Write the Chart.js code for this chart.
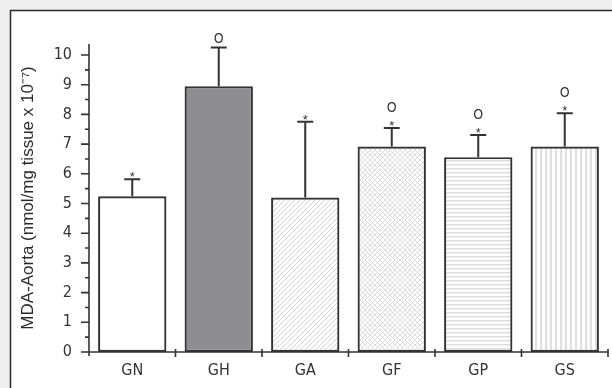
<!DOCTYPE html>
<html>
<head>
<meta charset="utf-8">
<script src="https://cdn.jsdelivr.net/npm/chart.js@4.4.0/dist/chart.umd.min.js"></script>
<style>
  html, body { margin: 0; padding: 0; background: #efefef; }
</style>
</head>
<body>
<canvas id="chart" width="612" height="388"></canvas>
<script>
const groups = ["GN", "GH", "GA", "GF", "GP", "GS"];
const meanValues = [5.24, 8.95, 5.2, 6.92, 6.56, 6.92];
const errorUpper = [5.82, 10.25, 7.75, 7.54, 7.31, 8.04];
const starMarks = ["*", "", "*", "*", "*", "*"];
const circleMarks = ["", "O", "", "O", "O", "O"];
const yTickValues = [0, 1, 2, 3, 4, 5, 6, 7, 8, 9, 10];
const yTitle = "MDA-Aorta (nmol/mg tissue x 10\u207B\u2077)";

const canvas = document.getElementById("chart");
const ctx = canvas.getContext("2d");
const ink = "#333333";
const narrow = "'DejaVu Sans Condensed', 'Liberation Sans', sans-serif";
const regular = "'Liberation Sans', Arial, sans-serif";

// small tiles for the hatched bars
function makePattern(w, h, draw) {
  const tile = document.createElement("canvas");
  tile.width = w;
  tile.height = h;
  const t = tile.getContext("2d");
  t.fillStyle = "#ffffff";
  t.fillRect(0, 0, w, h);
  draw(t);
  return ctx.createPattern(tile, "repeat");
}

const diagPattern = makePattern(5, 5, t => {
  t.strokeStyle = "#d2d2d2";
  t.lineWidth = 1;
  t.beginPath();
  t.moveTo(-1, 6); t.lineTo(6, -1);
  t.moveTo(-1, 1); t.lineTo(1, -1);
  t.moveTo(4, 6); t.lineTo(6, 4);
  t.stroke();
});

const crossPattern = makePattern(5, 5, t => {
  t.strokeStyle = "#d4d4d4";
  t.lineWidth = 0.8;
  t.beginPath();
  t.moveTo(-1, 6); t.lineTo(6, -1);
  t.moveTo(-1, -1); t.lineTo(6, 6);
  t.stroke();
});

const horizPattern = makePattern(4, 4, t => {
  t.fillStyle = "#dedede";
  t.fillRect(0, 0, 4, 1.5);
});

const vertPattern = makePattern(5, 4, t => {
  t.fillStyle = "#e0e0e0";
  t.fillRect(0, 0, 2, 4);
});

const fills = ["#ffffff", "#8e8e92", diagPattern, crossPattern, horizPattern, vertPattern];

const framePlugin = {
  id: "frame",
  beforeDraw(chart) {
    const c = chart.ctx;
    c.save();
    c.fillStyle = "#efefef";
    c.fillRect(0, 0, chart.width, chart.height);
    c.fillStyle = "#ffffff";
    c.fillRect(10, 10, chart.width, chart.height);
    c.strokeStyle = "#2a2a2a";
    c.lineWidth = 1.5;
    c.strokeRect(10.5, 10.5, chart.width + 20, chart.height + 20);
    c.restore();
  }
};

const axesPlugin = {
  id: "axesAndErrors",
  afterDatasetsDraw(chart) {
    const c = chart.ctx;
    const area = chart.chartArea;
    const xs = chart.scales.x;
    const ys = chart.scales.y;
    c.save();
    c.strokeStyle = ink;
    c.lineWidth = 1.6;

    // axis lines
    c.beginPath();
    c.moveTo(area.left, area.top);
    c.lineTo(area.left, area.bottom + 4);
    c.moveTo(area.left, area.bottom);
    c.lineTo(area.right, area.bottom);
    c.stroke();

    // y ticks, major and half steps
    c.beginPath();
    yTickValues.forEach(v => {
      const y = ys.getPixelForValue(v);
      c.moveTo(area.left - 8, y);
      c.lineTo(area.left, y);
      if (v < yTickValues[yTickValues.length - 1]) {
        const ym = ys.getPixelForValue(v + 0.5);
        c.moveTo(area.left - 4, ym);
        c.lineTo(area.left, ym);
      }
    });
    c.stroke();

    // x ticks at the group boundaries
    const step = xs.width / groups.length;
    c.beginPath();
    for (let i = 1; i <= groups.length; i++) {
      const x = xs.getPixelForValue(i - 1) + step / 2;
      c.moveTo(x, area.bottom - 3);
      c.lineTo(x, area.bottom + 5);
    }
    c.stroke();

    // error bars and marks
    const meta = chart.getDatasetMeta(0);
    c.lineWidth = 2;
    meta.data.forEach((bar, i) => {
      const top = ys.getPixelForValue(meanValues[i]);
      const cap = ys.getPixelForValue(errorUpper[i]);
      c.beginPath();
      c.moveTo(bar.x, top);
      c.lineTo(bar.x, cap);
      c.moveTo(bar.x - 8, cap);
      c.lineTo(bar.x + 8, cap);
      c.stroke();

      c.fillStyle = ink;
      c.textAlign = "center";
      c.textBaseline = "alphabetic";
      let markY = cap;
      if (starMarks[i]) {
        c.font = "13px " + regular;
        c.fillText(starMarks[i], bar.x, cap + 2);
        markY = cap - 11;
      }
      if (circleMarks[i]) {
        c.font = "14px " + narrow;
        c.fillText(circleMarks[i], bar.x, markY - 5);
      }
    });
    c.restore();
  }
};

new Chart(ctx, {
  type: "bar",
  data: {
    labels: groups,
    datasets: [{
      data: meanValues,
      backgroundColor: fills,
      borderColor: ink,
      borderWidth: 2.2,
      borderSkipped: false,
      barPercentage: 0.79,
      categoryPercentage: 1
    }]
  },
  options: {
    responsive: false,
    animation: false,
    layout: { padding: { left: 10, top: 44, right: 4, bottom: 0 } },
    plugins: {
      legend: { display: false },
      tooltip: { enabled: false }
    },
    scales: {
      x: {
        grid: { display: false, drawTicks: false },
        border: { display: false },
        ticks: {
          color: "#333333",
          padding: 9,
          font: { family: narrow, size: 16 }
        },
        afterFit: s => { s.height = 36; }
      },
      y: {
        min: 0,
        max: 10.37,
        grid: { display: false, drawTicks: false },
        border: { display: false },
        afterBuildTicks: s => { s.ticks = yTickValues.map(v => ({ value: v })); },
        ticks: {
          color: "#333333",
          padding: 17,
          font: { family: narrow, size: 16 }
        },
        title: {
          display: true,
          text: yTitle,
          color: "#2a2a2a",
          padding: { top: 8, bottom: 0 },
          font: { family: regular, size: 17 }
        },
        afterFit: s => { s.width = 79; }
      }
    }
  },
  plugins: [framePlugin, axesPlugin]
});
</script>
</body>
</html>
